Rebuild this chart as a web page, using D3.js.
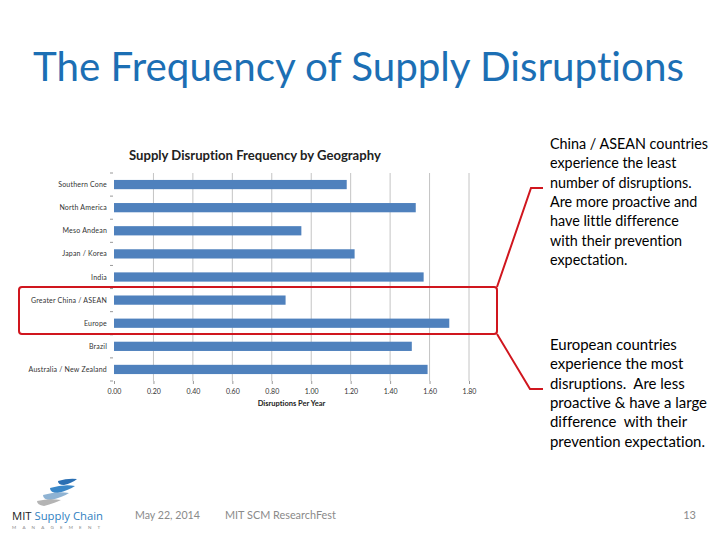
<!DOCTYPE html>
<html lang="en">
  <head>
    <meta charset="utf-8" />
    <script src="https://d3js.org/d3.v7.min.js"></script>
    <style>
      body { margin: 0; background: #fff; }
      svg { display: block; font-family: Lato, 'Open Sans', sans-serif; }
      text { white-space: pre; font-variant-ligatures: none; font-feature-settings: "liga" 0, "clig" 0, "dlig" 0; }
    </style>
  </head>
  <body>
    <svg id="slide" width="720" height="540"></svg>
    <script>
      // chart data
      const regions = [
        'Southern Cone', 'North America', 'Meso Andean', 'Japan / Korea', 'India',
        'Greater China / ASEAN', 'Europe', 'Brazil', 'Australia / New Zealand'
      ];
      const disruptions = [1.18, 1.53, 0.95, 1.22, 1.57, 0.87, 1.70, 1.51, 1.59];
      const xTicks = [0, 0.2, 0.4, 0.6, 0.8, 1.0, 1.2, 1.4, 1.6, 1.8];

      const noteChina = [
        'China / ASEAN countries', 'experience the least', 'number of disruptions.',
        'Are more proactive and', 'have little difference', 'with their prevention', 'expectation.'
      ];
      const noteEurope = [
        'European countries', 'experience the most', 'disruptions.  Are less',
        'proactive & have a large', 'difference  with their', 'prevention expectation.'
      ];

      const svg = d3.select('#slide');

      // shrink/grow a text node so it spans the wanted width
      function fit(sel, w) {
        const node = sel.node();
        const fs = parseFloat(sel.attr('font-size'));
        const len = node.getComputedTextLength();
        sel.attr('font-size', (fs * w / len).toFixed(2));
        return sel;
      }

      // slide title
      fit(svg.append('text')
        .attr('x', 33).attr('y', 81)
        .attr('font-size', 38)
        .attr('fill', '#1c6fb4')
        .text('The Frequency of Supply Disruptions'), 651);

      // chart
      const x = d3.scaleLinear().domain([0, 1.8]).range([114, 469]);
      const y = d3.scaleBand().domain(regions).range([173, 381])
        .paddingInner(0.6).paddingOuter(0.3);

      fit(svg.append('text')
        .attr('x', 129).attr('y', 160)
        .attr('font-size', 12).attr('font-weight', 'bold')
        .attr('fill', '#222')
        .text('Supply Disruption Frequency by Geography'), 252);

      // gridlines
      svg.append('g')
        .selectAll('line')
        .data(xTicks.slice(1))
        .join('line')
        .attr('x1', d => x(d)).attr('x2', d => x(d))
        .attr('y1', 173).attr('y2', 381)
        .attr('stroke', '#c4c4c4').attr('stroke-width', 1);

      // y tick dashes at band boundaries
      svg.append('g')
        .selectAll('line')
        .data(d3.range(regions.length + 1))
        .join('line')
        .attr('x1', 110).attr('x2', 113)
        .attr('y1', i => 173 + i * y.step()).attr('y2', i => 173 + i * y.step())
        .attr('stroke', '#999');

      // bars
      svg.append('g')
        .selectAll('rect')
        .data(regions)
        .join('rect')
        .attr('x', x(0))
        .attr('y', d => y(d))
        .attr('height', y.bandwidth())
        .attr('width', (d, i) => x(disruptions[i]) - x(0))
        .attr('fill', '#4f81bd');

      // category labels
      svg.append('g')
        .selectAll('text')
        .data(regions)
        .join('text')
        .attr('x', 107)
        .attr('y', d => y(d) + y.bandwidth() / 2 + 2.5)
        .attr('text-anchor', 'end')
        .attr('font-size', 7)
        .attr('letter-spacing', 0.2)
        .attr('fill', '#333')
        .text(d => d);

      // x axis
      const xAxis = svg.append('g')
        .attr('transform', 'translate(0,381)')
        .call(d3.axisBottom(x).tickValues(xTicks).tickFormat(d3.format('.2f')).tickSize(3).tickPadding(5));
      xAxis.select('.domain').remove();
      xAxis.selectAll('line').attr('stroke', '#999');
      xAxis.selectAll('text').attr('font-size', 7).attr('fill', '#333')
        .attr('font-family', 'Lato, sans-serif');

      svg.append('text')
        .attr('x', x(0.9)).attr('y', 406)
        .attr('text-anchor', 'middle')
        .attr('font-size', 7.5).attr('font-weight', 'bold')
        .attr('fill', '#222')
        .text('Disruptions Per Year');

      // red highlight box and connectors
      svg.append('rect')
        .attr('x', 19).attr('y', 287).attr('width', 478).attr('height', 47)
        .attr('rx', 3)
        .attr('fill', 'none').attr('stroke', '#d0161e').attr('stroke-width', 2);

      svg.append('path')
        .attr('d', 'M497,287 L531,188 L543,188 M497,334 L530,389 L543,389')
        .attr('fill', 'none').attr('stroke', '#d0161e').attr('stroke-width', 2);

      // notes
      function note(lines, y0, widest) {
        const t = svg.append('text')
          .attr('x', 550).attr('y', y0)
          .attr('font-size', 13).attr('fill', '#000');
        t.selectAll('tspan')
          .data(lines)
          .join('tspan')
          .attr('x', 550)
          .attr('dy', (d, i) => i ? 19.3 : 0)
          .text(d => d);
        const w = d3.max(t.selectAll('tspan').nodes(), n => n.getComputedTextLength());
        t.attr('font-size', (13 * widest / w).toFixed(2));
      }
      note(noteChina, 149, 158);
      note(noteEurope, 350, 157);

      // footer
      fit(svg.append('text').attr('x', 135).attr('y', 519)
        .attr('font-size', 11).attr('fill', '#8a8a8a').text('May 22, 2014'), 65);
      fit(svg.append('text').attr('x', 225).attr('y', 519)
        .attr('font-size', 11).attr('fill', '#8a8a8a').text('MIT SCM ResearchFest'), 111);
      svg.append('text').attr('x', 696).attr('y', 519).attr('text-anchor', 'end')
        .attr('font-size', 11).attr('fill', '#8a8a8a').text('13');

      // logo swooshes
      const logo = svg.append('g');
      const stripes = [
        { d: 'M58,481 Q68,478 77,479 Q72,483 64,485 Q58,485 58,481 Z', c: '#2a6fb3' },
        { d: 'M50,488 Q64,484 75,486 Q69,490 58,493 Q50,493 50,488 Z', c: '#3a87c8' },
        { d: 'M43,495 Q57,491 69,493 Q63,497 51,500 Q43,500 43,495 Z', c: '#8fb3d3' },
        { d: 'M37,501 Q50,498 61,500 Q55,503 44,506 Q37,505 37,501 Z', c: '#b4b4b4' }
      ];
      logo.selectAll('path')
        .data(stripes)
        .join('path')
        .attr('d', d => d.d)
        .attr('fill', d => d.c);
      const lt = logo.append('text').attr('x', 12).attr('y', 520)
        .attr('font-size', 11.5).attr('font-family', 'Open Sans, sans-serif');
      lt.append('tspan').attr('fill', '#222').text('MIT ');
      lt.append('tspan').attr('fill', '#2f7fc1').text('Supply Chain');
      fit(lt, 91);
      logo.append('text').attr('x', 12).attr('y', 529)
        .attr('font-size', 4.5).attr('letter-spacing', 6.2).attr('fill', '#888')
        .text('MANAGEMENT');
    </script>
  </body>
</html>
